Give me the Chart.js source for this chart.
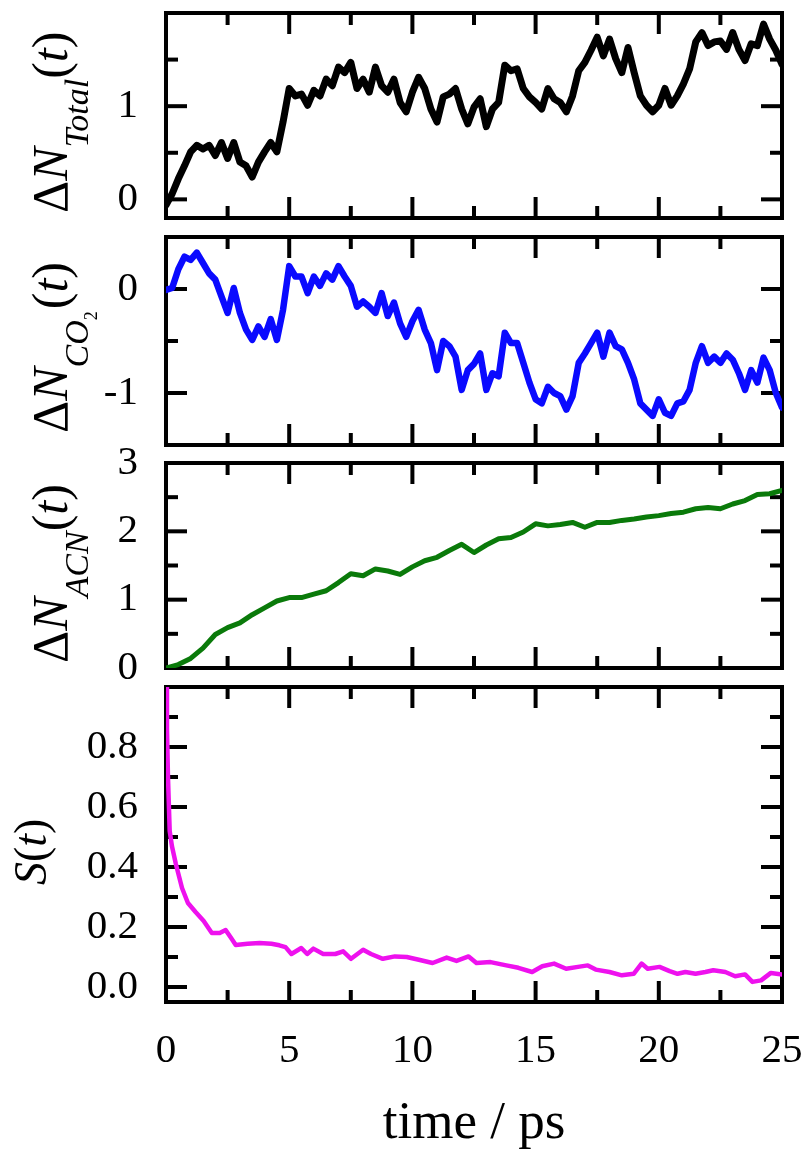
<!DOCTYPE html>
<html><head><meta charset="utf-8">
<script src="https://cdn.jsdelivr.net/npm/chart.js@4.4.0/dist/chart.umd.min.js"></script>
<style>
html,body{margin:0;padding:0;background:#fff;}
#wrap{position:relative;width:809px;height:1158px;overflow:hidden;}
canvas{position:absolute;left:0;top:0;}
</style></head><body>
<div id="wrap">
<canvas id="c1" width="809" height="1158"></canvas>
<canvas id="c2" width="809" height="1158"></canvas>
<canvas id="c3" width="809" height="1158"></canvas>
<canvas id="c4" width="809" height="1158"></canvas>
</div>
<script>
// ---------- data ----------
const timeA = [0,0.25,0.5,0.75,1,1.25,1.5,1.75,2,2.25,2.5,2.75,
  3,3.25,3.5,3.75,4,4.25,4.5,4.75,5,5.25,5.5,5.75,
  6,6.25,6.5,6.75,7,7.25,7.5,7.75,8,8.25,8.5,8.75,
  9,9.25,9.5,9.75,10,10.25,10.5,10.75,11,11.25,11.5,11.75,
  12,12.25,12.5,12.75,13,13.25,13.5,13.75,14,14.25,14.5,14.75,
  15,15.25,15.5,15.75,16,16.25,16.5,16.75,17,17.25,17.5,17.75,
  18,18.25,18.5,18.75,19,19.25,19.5,19.75,20,20.25,20.5,20.75,
  21,21.25,21.5,21.75,22,22.25,22.5,22.75,23,23.25,23.5,23.75,
  24,24.25,24.5,24.75,25];
const totalValues = [-0.06,0.06,0.22,0.36,0.51,0.58,0.54,0.58,0.47,0.61,0.44,0.61,
  0.40,0.36,0.24,0.40,0.51,0.61,0.51,0.83,1.19,1.11,1.13,1.01,
  1.17,1.11,1.29,1.22,1.42,1.36,1.47,1.19,1.29,1.15,1.42,1.22,
  1.15,1.29,1.04,0.94,1.15,1.31,1.19,0.97,0.83,1.10,1.13,1.19,
  0.97,0.81,0.99,1.08,0.78,0.97,1.04,1.44,1.38,1.40,1.19,1.10,
  1.04,0.97,1.19,1.08,1.04,0.94,1.11,1.38,1.47,1.60,1.74,1.54,
  1.72,1.51,1.36,1.63,1.36,1.11,1.01,0.94,1.01,1.19,1.01,1.11,
  1.24,1.40,1.69,1.79,1.65,1.69,1.70,1.61,1.79,1.61,1.49,1.67,
  1.65,1.88,1.72,1.60,1.45];
const co2Values = [-0.01,0.01,0.19,0.31,0.28,0.35,0.25,0.15,0.09,-0.07,-0.23,0.01,
  -0.23,-0.39,-0.49,-0.36,-0.46,-0.29,-0.49,-0.20,0.22,0.12,0.12,-0.04,
  0.12,0.03,0.15,0.09,0.22,0.12,0.03,-0.17,-0.12,-0.17,-0.23,-0.04,
  -0.26,-0.13,-0.33,-0.46,-0.31,-0.20,-0.39,-0.52,-0.78,-0.50,-0.55,-0.65,
  -0.97,-0.78,-0.72,-0.62,-0.97,-0.81,-0.84,-0.42,-0.52,-0.52,-0.71,-0.90,
  -1.06,-1.10,-0.94,-1.00,-1.03,-1.16,-1.03,-0.71,-0.62,-0.52,-0.42,-0.65,
  -0.42,-0.55,-0.58,-0.71,-0.87,-1.10,-1.16,-1.22,-1.06,-1.19,-1.22,-1.10,
  -1.08,-0.97,-0.71,-0.55,-0.71,-0.65,-0.71,-0.62,-0.68,-0.81,-0.97,-0.78,
  -0.90,-0.66,-0.78,-1.00,-1.14];
const acnTime = [0,0.5,1,1.5,2,2.5,3,3.5,4,4.5,5,5.5,6,6.5,7,7.5,8,8.5,9,9.5,
  10,10.5,11,11.5,12,12.5,13,13.5,14,14.5,15,15.5,16,16.5,17,17.5,18,18.5,19,19.5,
  20,20.5,21,21.5,22,22.5,23,23.5,24,24.5,25];
const acnValues = [0,0.05,0.14,0.29,0.49,0.59,0.66,0.78,0.88,0.98,1.03,1.03,1.08,1.13,1.25,1.38,1.35,1.45,1.42,1.37,
  1.48,1.57,1.62,1.72,1.81,1.69,1.80,1.89,1.91,1.99,2.11,2.08,2.10,2.13,2.06,2.13,2.13,2.16,2.18,2.21,
  2.23,2.26,2.28,2.33,2.35,2.33,2.40,2.45,2.54,2.55,2.60];
const sTime = [0,0.04,0.08,0.15,0.24,0.4,0.65,0.89,1.2,1.53,1.86,2.18,2.42,2.67,2.83,3.31,3.8,4.28,4.6,4.85,
  5.09,5.49,5.73,5.98,6.38,6.87,7.19,7.51,8.0,8.32,8.8,9.29,9.77,10.26,10.82,11.39,11.79,12.28,12.6,13.17,
  13.81,14.3,14.86,15.27,15.75,16.24,16.72,17.12,17.44,18.0,18.5,18.98,19.3,19.55,20.03,20.44,20.76,21.08,21.49,21.89,
  22.21,22.7,23.1,23.5,23.8,24.15,24.55,25.0];
const sValues = [1.0,0.86,0.7,0.52,0.47,0.41,0.33,0.28,0.25,0.22,0.18,0.18,0.19,0.16,0.14,0.144,0.147,0.144,0.139,0.133,
  0.11,0.13,0.11,0.128,0.11,0.11,0.119,0.094,0.124,0.11,0.094,0.102,0.10,0.091,0.08,0.098,0.087,0.102,0.08,0.083,
  0.072,0.064,0.05,0.069,0.078,0.061,0.067,0.072,0.058,0.05,0.039,0.044,0.078,0.061,0.067,0.053,0.044,0.05,0.044,0.05,
  0.056,0.05,0.036,0.042,0.017,0.022,0.047,0.042];

const xMajorTicks = [0,5,10,15,20,25];
const xMinorTicks = [2.5,7.5,12.5,17.5,22.5];
const xTickLabels = [0,5,10,15,20,25];
const totalMajor = [0,1,2], totalMinor = [0.5,1.5], totalLabels = [0,1];
const co2Major = [-1,0], co2Minor = [-0.5], co2Labels = [-1,0];
const acnMajor = [0,1,2,3], acnMinor = [0.5,1.5,2.5], acnLabels = [0,1,2,3];
const sMajor = [0,0.2,0.4,0.6,0.8,1.0], sMinor = [0.1,0.3,0.5,0.7,0.9], sLabels = [0,0.2,0.4,0.6,0.8];

// ---------- helpers ----------
const SERIF = '"Liberation Serif", "Times New Roman", serif';
const MAJ = 21, MIN = 12;

function pts(xs, ys){ return xs.map((t,i)=>({x:t, y:ys[i]})); }

function drawRich(ctx, x, y, parts){
  ctx.save();
  ctx.translate(x, y);
  ctx.rotate(-Math.PI/2);
  ctx.fillStyle = '#000';
  ctx.textBaseline = 'alphabetic';
  ctx.textAlign = 'left';
  let cx = 0;
  parts.forEach(p => {
    ctx.font = p.f;
    ctx.fillText(p.t, cx, p.dy || 0);
    cx += ctx.measureText(p.t).width + (p.sp || 0);
  });
  ctx.restore();
}

function framePlugin(yMajor, yMinor){
  return {
    id: 'frameTicks',
    beforeDatasetsDraw(chart){
      const {ctx, chartArea: a, scales: {x, y}} = chart;
      ctx.save();
      ctx.strokeStyle = '#000';
      ctx.lineWidth = 4;
      ctx.lineCap = 'butt';
      const seg = (x1,y1,x2,y2)=>{ctx.beginPath();ctx.moveTo(x1,y1);ctx.lineTo(x2,y2);ctx.stroke();};
      xMajorTicks.forEach(v=>{const p=x.getPixelForValue(v); seg(p,a.top,p,a.top+MAJ); seg(p,a.bottom,p,a.bottom-MAJ);});
      xMinorTicks.forEach(v=>{const p=x.getPixelForValue(v); seg(p,a.top,p,a.top+MIN); seg(p,a.bottom,p,a.bottom-MIN);});
      yMajor.forEach(v=>{const p=y.getPixelForValue(v); seg(a.left,p,a.left+MAJ,p); seg(a.right,p,a.right-MAJ,p);});
      yMinor.forEach(v=>{const p=y.getPixelForValue(v); seg(a.left,p,a.left+MIN,p); seg(a.right,p,a.right-MIN,p);});
      ctx.strokeRect(a.left, a.top, a.right-a.left, a.bottom-a.top);
      ctx.restore();
    }
  };
}

function titlePlugin(x, y, parts){
  return { id:'yTitle', afterDraw(chart){ drawRich(chart.ctx, x, y, parts); } };
}

function zeroPad(s){ s.paddingTop=0; s.paddingBottom=0; s.paddingLeft=0; s.paddingRight=0; }

function makeChart(id, cfg){
  const showX = !!cfg.showX;
  return new Chart(document.getElementById(id), {
    type: 'line',
    data: { datasets: [{
      data: cfg.data,
      borderColor: cfg.color,
      borderWidth: cfg.width,
      pointRadius: 0,
      tension: 0,
      fill: false,
      borderJoinStyle: 'round',
      borderCapStyle: 'round'
    }]},
    options: {
      responsive: false,
      animation: false,
      events: [],
      layout: { padding: { left: 0, right: 27, top: cfg.top, bottom: cfg.padBottom } },
      plugins: { legend: {display:false}, tooltip: {enabled:false} },
      scales: {
        x: {
          type: 'linear', min: 0, max: 25,
          display: showX,
          afterBuildTicks: s => { s.ticks = xTickLabels.map(v=>({value:v})); },
          afterFit: s => { zeroPad(s); if (showX) s.height = cfg.xHeight; },
          grid: {display:false, drawTicks:false},
          border: {display:false},
          ticks: { padding: 25, maxRotation: 0, autoSkip: false, color:'#000',
                   font: {family: SERIF, size: 41} },
          title: { display: showX, text: 'time / ps', color: '#000', padding: 0,
                   font: {family: SERIF, size: 53} }
        },
        y: {
          type: 'linear', min: cfg.min, max: cfg.max,
          afterBuildTicks: s => { s.ticks = cfg.labels.map(v=>({value:v})); },
          afterFit: s => { zeroPad(s); s.width = 166; },
          grid: {display:false, drawTicks:false},
          border: {display:false},
          ticks: { padding: 28, color:'#000', font: {family: SERIF, size: 41},
                   callback: cfg.fmt }
        }
      }
    },
    plugins: [framePlugin(cfg.major, cfg.minor), titlePlugin(cfg.tx, cfg.ty, cfg.title)]
  });
}

const R50 = '50px ' + SERIF, I50 = 'italic 50px ' + SERIF, I34 = 'italic 34px ' + SERIF, R18 = '18px ' + SERIF;

makeChart('c1', {
  data: pts(timeA, totalValues), color: '#000000', width: 7,
  min: -0.2, max: 2.0, major: totalMajor, minor: totalMinor, labels: totalLabels,
  fmt: v => String(v), top: 13, padBottom: 1158-218,
  tx: 67, ty: 213,
  title: [{t:'\u0394', f:R50},{t:'N', f:I50},{t:'Total', f:I34, dy:21},{t:'(', f:R50},{t:'t', f:I50},{t:')', f:R50}]
});
makeChart('c2', {
  data: pts(timeA, co2Values), color: '#0a0aff', width: 6.5,
  min: -1.5, max: 0.5, major: co2Major, minor: co2Minor, labels: co2Labels,
  fmt: v => String(v), top: 237, padBottom: 1158-445,
  tx: 67, ty: 433,
  title: [{t:'\u0394', f:R50},{t:'N', f:I50},{t:'CO', f:I34, dy:21},{t:'2', f:R18, dy:30, sp:2},{t:'(', f:R50},{t:'t', f:I50},{t:')', f:R50}]
});
makeChart('c3', {
  data: pts(acnTime, acnValues), color: '#0a7a0a', width: 5,
  min: 0, max: 3, major: acnMajor, minor: acnMinor, labels: acnLabels,
  fmt: v => String(v), top: 463, padBottom: 1158-668,
  tx: 67, ty: 663,
  title: [{t:'\u0394', f:R50},{t:'N', f:I50},{t:'ACN', f:I34, dy:21},{t:'(', f:R50},{t:'t', f:I50},{t:')', f:R50}]
});
makeChart('c4', {
  data: pts(sTime, sValues), color: '#ee11ee', width: 4.5,
  min: -0.05, max: 1.0, major: sMajor, minor: sMinor, labels: sLabels,
  fmt: v => Number(v).toFixed(1), top: 687, padBottom: 2.2, xHeight: 153.8, showX: true,
  tx: 46, ty: 885,
  title: [{t:'S', f:'italic 46px ' + SERIF},{t:'(', f:'46px ' + SERIF},{t:'t', f:'italic 46px ' + SERIF},{t:')', f:'46px ' + SERIF}]
});
</script>
</body></html>
